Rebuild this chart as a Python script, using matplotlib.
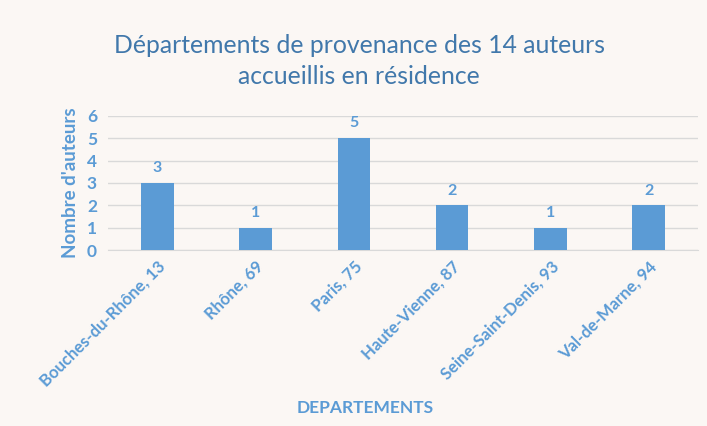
import matplotlib
matplotlib.use("Agg")
import matplotlib.pyplot as plt

categories = ["Bouches-du-Rhône, 13", "Rhône, 69", "Paris, 75", "Haute-Vienne, 87",
              "Seine-Saint-Denis, 93", "Val-de-Marne, 94"]
values = [3, 1, 5, 2, 1, 2]
yticks = [0, 1, 2, 3, 4, 5, 6]

plt.rcParams['font.family'] = ['Lato', 'DejaVu Sans']
bg = "#fbf7f4"
blue = "#5b9bd5"
tblue = "#4178ab"

fig = plt.figure(figsize=(7.07, 4.26), dpi=100, facecolor=bg)
ax = fig.add_axes([0.153, 0.413, 0.834, 0.315], facecolor=bg)

x = list(range(len(categories)))
bars = ax.bar(x, values, width=0.33, color=blue, zorder=3)
for xi, v in zip(x, values):
    ax.text(xi, v + 0.35, str(v), ha="center", va="bottom", color=blue,
            fontsize=11.5, fontweight="bold")

ax.set_xlim(-0.5, len(categories) - 0.5)
ax.set_ylim(0, 6)
ax.set_yticks(yticks)
ax.set_yticklabels([str(t) for t in yticks], color=blue, fontsize=12.5, fontweight="bold")
ax.yaxis.grid(True, color="#d9d9d9", linewidth=1, zorder=0)
ax.set_xticks(x)
ax.set_xticklabels(categories, rotation=45, ha="right", rotation_mode="anchor",
                   color=blue, fontsize=12, fontweight="bold")
ax.tick_params(axis="y", length=0, pad=8)
ax.tick_params(axis="x", length=0, pad=6)
for s in ["top", "right", "left"]:
    ax.spines[s].set_visible(False)
ax.spines["bottom"].set_color("#d9d9d9")

ax.set_ylabel("Nombre d'auteurs", color=blue, fontsize=13.5, fontweight="bold", labelpad=6)
fig.text(0.517, 0.042, "DEPARTEMENTS", ha="center", va="center", color=blue,
         fontsize=12.5, fontweight="bold")
fig.text(0.508, 0.857, "Départements de provenance des 14 auteurs\naccueillis en résidence",
         ha="center", va="center", color=tblue, fontsize=17.8, linespacing=1.45)

fig.savefig("out.png", dpi=100, facecolor=bg)
